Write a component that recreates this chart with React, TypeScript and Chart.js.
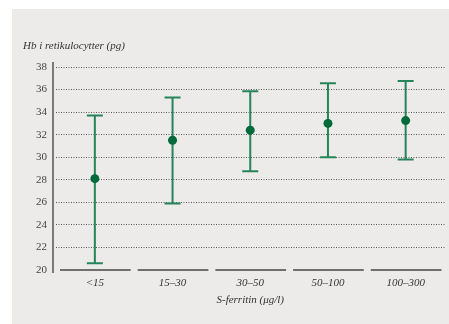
import React, { useEffect, useRef } from "react";
import { Chart, registerables } from "chart.js";

Chart.register(...registerables);

const categories = ["<15", "15–30", "30–50", "50–100", "100–300"];
const means = [28.1, 31.5, 32.4, 33.0, 33.25];
const lowers = [20.6, 25.9, 28.75, 30.0, 29.8];
const uppers = [33.7, 35.3, 35.85, 36.55, 36.75];
const yMin = 20;
const yMax = 38;
const yStep = 2;
const yTitle = "Hb i retikulocytter (pg)";
const xTitle = "S-ferritin (μg/l)";

const GREEN_DOT = "#006a3b";
const GREEN_BAR = "#25855a";
const FONT = "'Liberation Serif', 'DejaVu Serif', serif";

const decorPlugin = {
  id: "decor",
  beforeDraw(chart: any) {
    const { ctx, width, height } = chart;
    ctx.save();
    ctx.fillStyle = "#ffffff";
    ctx.fillRect(0, 0, width, height);
    ctx.fillStyle = "#ecebe9";
    ctx.fillRect(12, 9, width - 12, height - 9);
    ctx.restore();
  },
  beforeDatasetsDraw(chart: any) {
    const { ctx, chartArea } = chart;
    const x = chart.scales.x;
    const y = chart.scales.y;
    ctx.save();
    // y axis line
    ctx.strokeStyle = "#555555";
    ctx.lineWidth = 1.5;
    ctx.beginPath();
    ctx.moveTo(chartArea.left - 3, y.getPixelForValue(yMax) - 5);
    ctx.lineTo(chartArea.left - 3, y.getPixelForValue(yMin) + 3);
    ctx.stroke();
    // segmented baseline
    const band = (chartArea.right - chartArea.left) / categories.length;
    const by = y.getPixelForValue(yMin);
    ctx.strokeStyle = "#6f6f6f";
    ctx.lineWidth = 2;
    categories.forEach((_, i) => {
      const cx = x.getPixelForValue(i);
      ctx.beginPath();
      ctx.moveTo(cx - band / 2 + 4, by);
      ctx.lineTo(cx + band / 2 - 3, by);
      ctx.stroke();
    });
    // error bars
    ctx.strokeStyle = GREEN_BAR;
    ctx.lineWidth = 2;
    categories.forEach((_, i) => {
      const cx = x.getPixelForValue(i);
      const yl = y.getPixelForValue(lowers[i]);
      const yu = y.getPixelForValue(uppers[i]);
      ctx.beginPath();
      ctx.moveTo(cx, yl);
      ctx.lineTo(cx, yu);
      ctx.moveTo(cx - 8, yl);
      ctx.lineTo(cx + 8, yl);
      ctx.moveTo(cx - 8, yu);
      ctx.lineTo(cx + 8, yu);
      ctx.stroke();
    });
    ctx.restore();
  },
};

export default function App() {
  const ref = useRef<HTMLCanvasElement | null>(null);
  useEffect(() => {
    if (!ref.current) return;
    const chart = new Chart(ref.current, {
      type: "line",
      data: {
        labels: categories,
        datasets: [
          {
            data: means,
            showLine: false,
            pointRadius: 4.5,
            pointHoverRadius: 4.5,
            pointBackgroundColor: GREEN_DOT,
            pointBorderColor: GREEN_DOT,
            pointBorderWidth: 0,
          },
        ],
      },
      options: {
        responsive: false,
        animation: false,
        events: [],
        layout: { padding: { left: 23, right: 0, top: 0, bottom: 0 } },
        plugins: {
          legend: { display: false },
          tooltip: { enabled: false },
          title: {
            display: true,
            text: yTitle,
            align: "start",
            color: "#333333",
            font: { family: FONT, size: 11, style: "italic", weight: "normal" },
            padding: { top: 39.4, bottom: 14.4 },
          },
        },
        scales: {
          x: {
            type: "category",
            offset: true,
            grid: { display: false, drawTicks: false },
            border: { display: false },
            ticks: {
              color: "#333333",
              padding: 7,
              font: { family: FONT, size: 11, style: "italic" },
              maxRotation: 0,
            },
            title: {
              display: true,
              text: xTitle,
              color: "#333333",
              font: { family: FONT, size: 11, style: "italic" },
              padding: { top: 0, bottom: 17.4 },
            },
            afterFit(scale: any) {
              scale.height = 54;
            },
          },
          y: {
            min: yMin,
            max: yMax,
            border: { display: false, dash: [1, 1.5] },
            grid: {
              drawTicks: false,
              color: (c: any) => (c.tick && c.tick.value === yMin ? "rgba(0,0,0,0)" : "#5a5a5a"),
              lineWidth: 1,
            },
            ticks: {
              stepSize: yStep,
              padding: 9,
              color: "#444444",
              font: { family: FONT, size: 11 },
            },
            afterFit(scale: any) {
              scale.width = 33;
            },
          },
        },
      },
      plugins: [decorPlugin],
    } as any);
    return () => chart.destroy();
  }, []);
  return (
    <div style={{ position: "absolute", left: 0, top: 0, width: 449, height: 324 }}>
      <canvas ref={ref} width={449} height={324} style={{ width: 449, height: 324 }} />
    </div>
  );
}
